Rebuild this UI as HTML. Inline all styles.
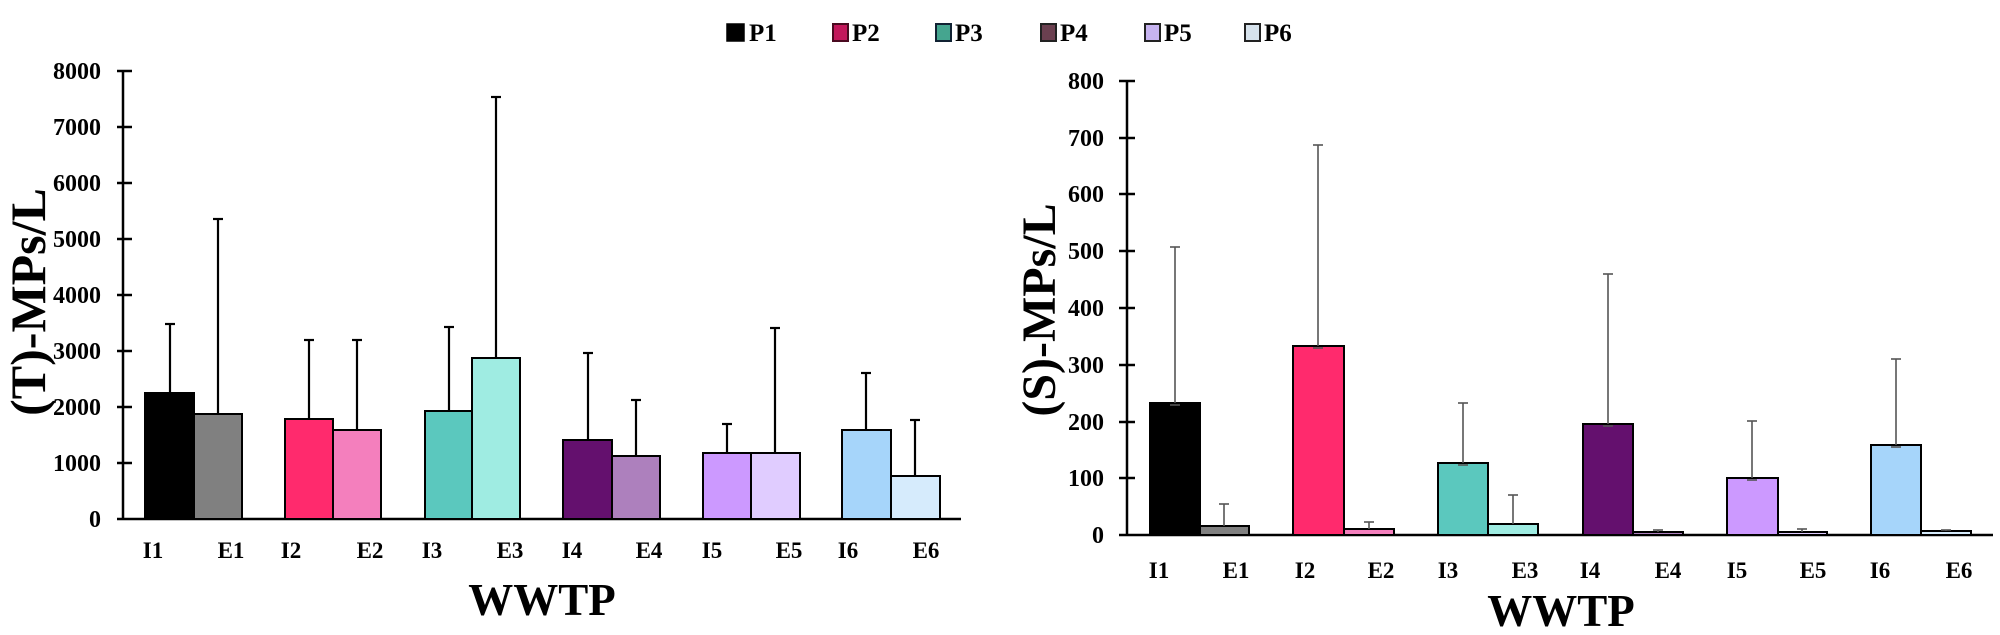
<!DOCTYPE html>
<html><head><meta charset="utf-8"><style>
html,body{margin:0;padding:0;background:#fff;}
svg{display:block;}
text{font-family:"Liberation Serif",serif;font-weight:bold;fill:#000;}
</style></head><body>
<svg width="2000" height="635" viewBox="0 0 2000 635" xmlns="http://www.w3.org/2000/svg">
<!-- Legend -->
<g font-size="25">
<rect x="727" y="24" width="17" height="17" fill="#000" stroke="#000" stroke-width="1.5"/><text x="749" y="41">P1</text>
<rect x="833" y="24" width="15" height="17" fill="#c2185b" stroke="#4a0a20" stroke-width="2"/><text x="852" y="41">P2</text>
<rect x="936" y="24" width="15" height="17" fill="#45a58f" stroke="#123" stroke-width="2"/><text x="955" y="41">P3</text>
<rect x="1041" y="24" width="15" height="17" fill="#6b4050" stroke="#222" stroke-width="2"/><text x="1060" y="41">P4</text>
<rect x="1145" y="24" width="15" height="17" fill="#c6b3f0" stroke="#222" stroke-width="2"/><text x="1164" y="41">P5</text>
<rect x="1245" y="24" width="15" height="17" fill="#d6e2ec" stroke="#222" stroke-width="2"/><text x="1264" y="41">P6</text>
</g>

<!-- LEFT CHART -->
<g stroke="#000" stroke-width="2.5">
<line x1="123" y1="70" x2="123" y2="520"/>
<line x1="117" y1="519" x2="961" y2="519"/>
<line x1="117" y1="71" x2="132" y2="71"/>
<line x1="117" y1="127" x2="132" y2="127"/>
<line x1="117" y1="183" x2="132" y2="183"/>
<line x1="117" y1="239" x2="132" y2="239"/>
<line x1="117" y1="295" x2="132" y2="295"/>
<line x1="117" y1="351" x2="132" y2="351"/>
<line x1="117" y1="407" x2="132" y2="407"/>
<line x1="117" y1="463" x2="132" y2="463"/>
</g>
<g font-size="24" text-anchor="end">
<text x="101" y="79">8000</text><text x="101" y="135">7000</text><text x="101" y="191">6000</text>
<text x="101" y="247">5000</text><text x="101" y="303">4000</text><text x="101" y="359">3000</text>
<text x="101" y="415">2000</text><text x="101" y="471">1000</text><text x="101" y="527">0</text>
</g>
<g stroke="#000" stroke-width="2.2">
<line x1="170" y1="393" x2="170" y2="324"/><line x1="165" y1="324" x2="175" y2="324"/>
<line x1="218" y1="414" x2="218" y2="219"/><line x1="213" y1="219" x2="223" y2="219"/>
<line x1="309" y1="419" x2="309" y2="340"/><line x1="304" y1="340" x2="314" y2="340"/>
<line x1="357" y1="430" x2="357" y2="340"/><line x1="352" y1="340" x2="362" y2="340"/>
<line x1="449" y1="411" x2="449" y2="327"/><line x1="444" y1="327" x2="454" y2="327"/>
<line x1="496" y1="358" x2="496" y2="97"/><line x1="491" y1="97" x2="501" y2="97"/>
<line x1="588" y1="440" x2="588" y2="353"/><line x1="583" y1="353" x2="593" y2="353"/>
<line x1="636" y1="456" x2="636" y2="400"/><line x1="631" y1="400" x2="641" y2="400"/>
<line x1="727" y1="453" x2="727" y2="424"/><line x1="722" y1="424" x2="732" y2="424"/>
<line x1="775" y1="453" x2="775" y2="328"/><line x1="770" y1="328" x2="780" y2="328"/>
<line x1="866" y1="430" x2="866" y2="373"/><line x1="861" y1="373" x2="871" y2="373"/>
<line x1="915" y1="476" x2="915" y2="420"/><line x1="910" y1="420" x2="920" y2="420"/>
</g>
<g stroke="#000" stroke-width="2">
<rect x="145" y="393" width="49" height="126" fill="#000"/>
<rect x="194" y="414" width="48" height="105" fill="#808080"/>
<rect x="285" y="419" width="48" height="100" fill="#ff2a6d"/>
<rect x="333" y="430" width="48" height="89" fill="#f47fbd"/>
<rect x="425" y="411" width="47" height="108" fill="#5bc8be"/>
<rect x="472" y="358" width="48" height="161" fill="#9fece2"/>
<rect x="563" y="440" width="49" height="79" fill="#64106e"/>
<rect x="612" y="456" width="48" height="63" fill="#ad80bd"/>
<rect x="703" y="453" width="48" height="66" fill="#cc99ff"/>
<rect x="751" y="453" width="49" height="66" fill="#e0ccff"/>
<rect x="842" y="430" width="49" height="89" fill="#a6d5fa"/>
<rect x="891" y="476" width="49" height="43" fill="#d6ebfc"/>
</g>
<g font-size="23" text-anchor="middle">
<text x="153" y="558">I1</text><text x="231" y="558">E1</text>
<text x="291" y="558">I2</text><text x="370" y="558">E2</text>
<text x="432" y="558">I3</text><text x="510" y="558">E3</text>
<text x="572" y="558">I4</text><text x="649" y="558">E4</text>
<text x="712" y="558">I5</text><text x="789" y="558">E5</text>
<text x="848" y="558">I6</text><text x="926" y="558">E6</text>
</g>
<text x="542" y="615" font-size="45" text-anchor="middle">WWTP</text>
<text transform="translate(45,302) rotate(-90)" font-size="50" text-anchor="middle">(T)-MPs/L</text>

<!-- RIGHT CHART -->
<g stroke="#000" stroke-width="2.5">
<line x1="1127" y1="80" x2="1127" y2="536"/>
<line x1="1119" y1="535" x2="1993" y2="535"/>
<line x1="1119" y1="81" x2="1135" y2="81"/>
<line x1="1119" y1="138" x2="1135" y2="138"/>
<line x1="1119" y1="194" x2="1135" y2="194"/>
<line x1="1119" y1="251" x2="1135" y2="251"/>
<line x1="1119" y1="308" x2="1135" y2="308"/>
<line x1="1119" y1="365" x2="1135" y2="365"/>
<line x1="1119" y1="422" x2="1135" y2="422"/>
<line x1="1119" y1="478" x2="1135" y2="478"/>
</g>
<g font-size="24" text-anchor="end">
<text x="1104" y="89">800</text><text x="1104" y="146">700</text><text x="1104" y="202">600</text>
<text x="1104" y="259">500</text><text x="1104" y="316">400</text><text x="1104" y="373">300</text>
<text x="1104" y="430">200</text><text x="1104" y="486">100</text><text x="1104" y="543">0</text>
</g>
<g stroke="#000" stroke-width="2">
<rect x="1150" y="403" width="50" height="132" fill="#000"/>
<rect x="1200" y="526" width="49" height="9" fill="#808080"/>
<rect x="1293" y="346" width="51" height="189" fill="#ff2a6d"/>
<rect x="1344" y="529" width="50" height="6" fill="#f47fbd"/>
<rect x="1438" y="463" width="50" height="72" fill="#5bc8be"/>
<rect x="1488" y="524" width="50" height="11" fill="#9fece2"/>
<rect x="1583" y="424" width="50" height="111" fill="#64106e"/>
<rect x="1633" y="532" width="50" height="3" fill="#ad80bd"/>
<rect x="1727" y="478" width="51" height="57" fill="#cc99ff"/>
<rect x="1778" y="532" width="49" height="3" fill="#e0ccff"/>
<rect x="1871" y="445" width="50" height="90" fill="#a6d5fa"/>
<rect x="1921" y="531" width="50" height="4" fill="#d6ebfc"/>
</g>
<g stroke="#555" stroke-width="1.6">
<line x1="1175" y1="403" x2="1175" y2="247"/><line x1="1170" y1="247" x2="1180" y2="247"/><line x1="1170" y1="405" x2="1180" y2="405"/>
<line x1="1224" y1="526" x2="1224" y2="504"/><line x1="1219" y1="504" x2="1229" y2="504"/>
<line x1="1318" y1="346" x2="1318" y2="145"/><line x1="1313" y1="145" x2="1323" y2="145"/><line x1="1313" y1="348" x2="1323" y2="348"/>
<line x1="1369" y1="529" x2="1369" y2="522"/><line x1="1364" y1="522" x2="1374" y2="522"/>
<line x1="1463" y1="463" x2="1463" y2="403"/><line x1="1458" y1="403" x2="1468" y2="403"/><line x1="1458" y1="465" x2="1468" y2="465"/>
<line x1="1513" y1="524" x2="1513" y2="495"/><line x1="1508" y1="495" x2="1518" y2="495"/>
<line x1="1608" y1="424" x2="1608" y2="274"/><line x1="1603" y1="274" x2="1613" y2="274"/><line x1="1603" y1="426" x2="1613" y2="426"/>
<line x1="1658" y1="532" x2="1658" y2="530"/><line x1="1653" y1="530" x2="1663" y2="530"/>
<line x1="1752" y1="478" x2="1752" y2="421"/><line x1="1747" y1="421" x2="1757" y2="421"/><line x1="1747" y1="480" x2="1757" y2="480"/>
<line x1="1802" y1="532" x2="1802" y2="529"/><line x1="1797" y1="529" x2="1807" y2="529"/>
<line x1="1896" y1="445" x2="1896" y2="359"/><line x1="1891" y1="359" x2="1901" y2="359"/><line x1="1891" y1="447" x2="1901" y2="447"/>
<line x1="1946" y1="531" x2="1946" y2="530"/><line x1="1941" y1="530" x2="1951" y2="530"/>
</g>
<g font-size="23" text-anchor="middle">
<text x="1159" y="578">I1</text><text x="1236" y="578">E1</text>
<text x="1305" y="578">I2</text><text x="1381" y="578">E2</text>
<text x="1448" y="578">I3</text><text x="1525" y="578">E3</text>
<text x="1590" y="578">I4</text><text x="1668" y="578">E4</text>
<text x="1737" y="578">I5</text><text x="1813" y="578">E5</text>
<text x="1880" y="578">I6</text><text x="1959" y="578">E6</text>
</g>
<text x="1561" y="626" font-size="45" text-anchor="middle">WWTP</text>
<text transform="translate(1055,310) rotate(-90)" font-size="48" text-anchor="middle">(S)-MPs/L</text>
</svg>
</body></html>
